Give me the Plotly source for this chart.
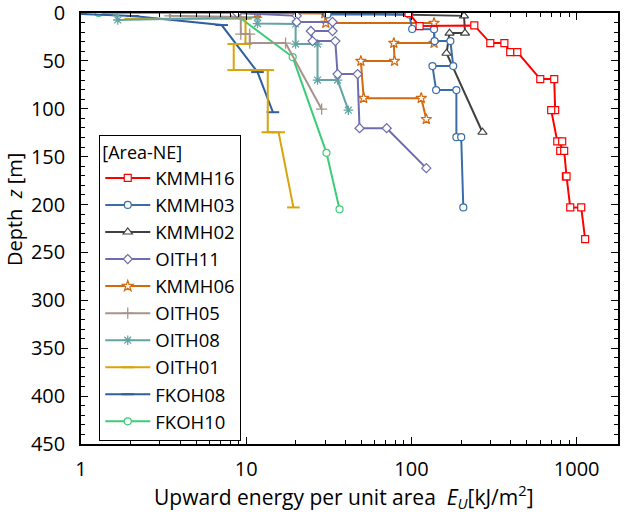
import plotly.graph_objects as go

# ---------------- data ----------------
names = ["KMMH16", "KMMH03", "KMMH02", "OITH11", "KMMH06",
         "OITH05", "OITH08", "OITH01", "FKOH08", "FKOH10"]

KMMH16_E = [96, 112, 240, 300, 365, 396, 437, 602, 731, 741, 701, 763, 817, 795, 840, 860, 868, 914, 1065, 1125]
KMMH16_z = [0, 13.6, 13.0, 31.4, 31.4, 40.8, 40.8, 69, 69, 101.5, 101.5, 134, 134, 144, 144, 170.5, 170.5, 203, 203, 236]

KMMH03_E = [31, 97, 101, 137, 138, 172, 179, 134, 141, 187, 187, 200, 206]
KMMH03_z = [1.5, 1.5, 16.7, 17, 29.3, 29.3, 55.4, 55.4, 80.5, 80.5, 129.7, 129.7, 203]

KMMH02_E = [30.6, 208, 211, 170, 163, 269]
KMMH02_z = [0, 3.0, 21, 21, 42, 124.5]

OITH11_E = [8.8, 20.2, 20.2, 33.3, 33.3, 24.6, 25.2, 34.6, 35.7, 47.2, 48.5, 70.8, 123]
OITH11_z = [0, 3.0, 9.4, 9.4, 18.8, 18.8, 29.3, 29.3, 63.8, 63.8, 120.3, 120.3, 162]

KMMH06_E = [11.7, 29.9, 30.3, 137, 137, 78.2, 79, 49.4, 51.4, 114.6, 123]
KMMH06_z = [0, 0.5, 10.5, 10.5, 31.4, 31.4, 50.2, 50.2, 88.9, 88.9, 110.9]

OITH05_E = [3.45, 3.45, 9.27, 9.27, 10.5, 10.5, 17.3, 28.6]
OITH05_z = [0, 3.0, 4.2, 22, 22, 31.4, 31.4, 100.4]

OITH08_E = [1.63, 1.67, 11.7, 11.7, 19.9, 19.9, 27.0, 27.0, 35.7, 41.5]
OITH08_z = [0, 7.3, 4.5, 11.0, 11.5, 32.4, 32.4, 70, 70, 101.5]

OITH01_E = [2.0, 9.9, 9.9, 8.4, 8.4, 13.5, 13.5, 15.7, 19.3]
OITH01_z = [6.0, 6.0, 32.4, 32.4, 59.6, 59.6, 124.5, 124.5, 203]

FKOH08_E = [1.0, 2.06, 7.1, 11.7, 14.5]
FKOH08_z = [1.0, 3.1, 12.6, 61.7, 103.6]

FKOH10_E = [1.28, 8.4, 19.1, 30.6, 36.7]
FKOH10_z = [0, 0, 46, 146, 205]

series_E = [KMMH16_E, KMMH03_E, KMMH02_E, OITH11_E, KMMH06_E,
            OITH05_E, OITH08_E, OITH01_E, FKOH08_E, FKOH10_E]
series_z = [KMMH16_z, KMMH03_z, KMMH02_z, OITH11_z, KMMH06_z,
            OITH05_z, OITH08_z, OITH01_z, FKOH08_z, FKOH10_z]

x_tickvals = [1, 10, 100, 1000]
y_tickvals = [0, 50, 100, 150, 200, 250, 300, 350, 400, 450]

# ---------------- styles ----------------
colors = ["#FF0000", "#3A6DA8", "#404040", "#6C6CAE", "#D2690F",
          "#A6948C", "#63A4A2", "#D8A40C", "#2F5F9E", "#3DCB78"]
symbols = ["square", "circle", "triangle-up", "diamond", "star",
           "cross-thin", "asterisk", "line-ew", "line-ew", "circle"]
sizes = [7, 7, 8, 7, 8, 8, 8, 9, 9, 7]

FONT = "Open Sans"
fig = go.Figure()

for i in reversed(range(len(names))):
    c = colors[i]
    sym = symbols[i]
    if sym in ("cross-thin", "asterisk", "line-ew"):
        marker = dict(symbol=sym, size=sizes[i], color=c,
                      line=dict(color=c, width=2 if sym == "line-ew" else 1.3))
    else:
        marker = dict(symbol=sym, size=sizes[i], color="white",
                      line=dict(color=c, width=1.2))
    fig.add_trace(go.Scatter(
        x=series_E[i], y=series_z[i], name=names[i],
        mode="lines+markers",
        line=dict(color=c, width=2),
        marker=marker,
    ))

axis_common = dict(
    showline=True, linecolor="black", linewidth=1.5, mirror="ticks",
    ticks="inside", tickcolor="black", tickwidth=1.2, ticklen=7,
    showgrid=False, zeroline=False, automargin=False,
    ticklabeloverflow="allow",
    tickfont=dict(family=FONT, size=20, color="black"),
)

fig.update_layout(
    width=629, height=512,
    margin=dict(l=81, r=11, t=13, b=68),
    paper_bgcolor="white", plot_bgcolor="white",
    font=dict(family=FONT, color="black"),
    xaxis=dict(
        type="log", range=[0, 3.25],
        tickvals=x_tickvals, ticktext=[str(v) for v in x_tickvals],
        ticklabelstandoff=6,
        minor=dict(ticks="inside", ticklen=4, tickwidth=1, tickcolor="black", dtick="D1", showgrid=False),
        **axis_common,
    ),
    yaxis=dict(
        range=[450, 0], tickvals=y_tickvals,
        ticklabelstandoff=10,
        minor=dict(ticks="inside", ticklen=4, tickwidth=1, tickcolor="black", dtick=10, showgrid=False),
        **axis_common,
    ),
    legend=dict(
        x=0.034, y=0.717, xanchor="left", yanchor="top",
        bgcolor="white", bordercolor="black", borderwidth=1,
        font=dict(family=FONT, size=18.5, color="black"),
        title=dict(text="[Area-NE]", font=dict(family=FONT, size=18, color="black")),
        traceorder="reversed", itemwidth=45,
    ),
    annotations=[
        dict(text="Depth  <i>z</i> [m]", textangle=-90,
             xref="paper", yref="paper", x=-0.1248, y=0.545,
             xanchor="center", yanchor="middle", showarrow=False,
             font=dict(family=FONT, size=20, color="black")),
        dict(text="Upward energy per unit area  <i>E</i><sub><i>U</i></sub>[kJ/m<sup>2</sup>]",
             xref="paper", yref="paper", x=0.49, y=-0.122,
             xanchor="center", yanchor="middle", showarrow=False,
             font=dict(family=FONT, size=21, color="black")),
    ],
    showlegend=True,
)

fig.write_html("out.html", config={"displayModeBar": False},
               post_script="document.body.style.margin='0';document.body.style.overflow='hidden';")
